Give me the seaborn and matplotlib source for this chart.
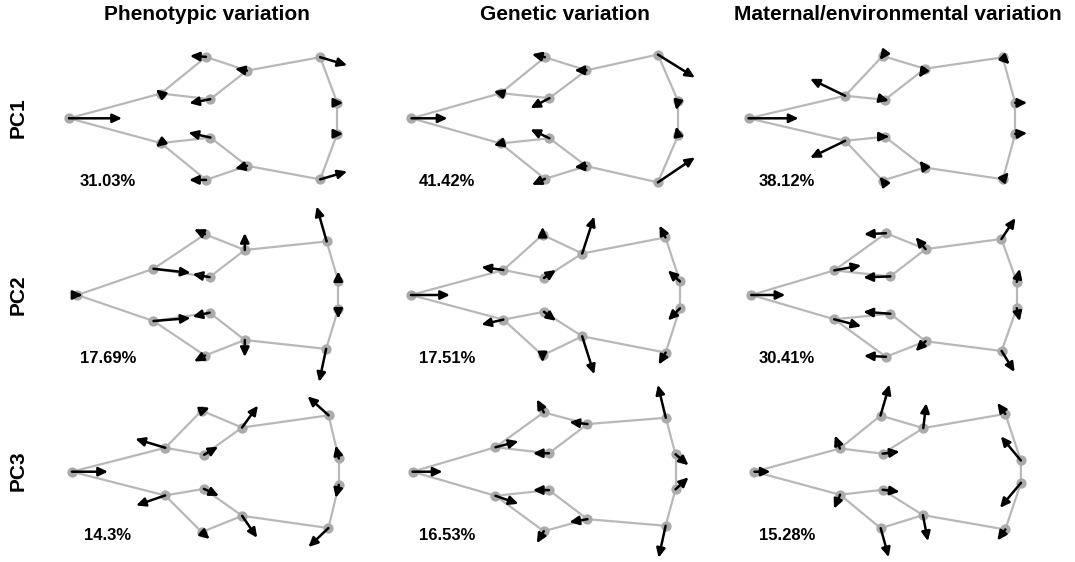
"""
Landmark displacement vectors for the first three PCs of
phenotypic, genetic and maternal/environmental shape variation.
"""
import numpy as np
import matplotlib.pyplot as plt
import seaborn as sns

# ---------------------------------------------------------------------------
# Data
# ---------------------------------------------------------------------------

COLUMNS = ["Phenotypic variation", "Genetic variation", "Maternal/environmental variation"]
ROWS = ["PC1", "PC2", "PC3"]

# consensus (mean) shape, 13 landmarks
MEAN_X = [0.0, 0.817, 1.248, 1.283, 1.665, 2.466, 2.60, 2.60, 2.466, 1.665, 1.283, 1.248, 0.817]
MEAN_Y = [0.0, 0.255, 0.616, 0.184, 0.48, 0.597, 0.155, -0.155, -0.597, -0.48, -0.184, -0.616, -0.255]

# wireframe links between landmarks
LINKS = [(0, 1), (0, 12), (1, 2), (1, 3), (2, 4), (3, 4), (4, 5), (5, 6),
         (6, 7), (7, 8), (8, 9), (9, 10), (9, 11), (10, 12), (11, 12)]

# PC displacement vectors (dx, dy per landmark)
pheno_pc1_dx = [0.53, -0.05, -0.16, -0.21, -0.12, 0.27, 0.06, 0.06, 0.27, -0.12, -0.22, -0.17, -0.05]
pheno_pc1_dy = [0.0, 0.04, 0.01, -0.04, 0.02, -0.08, 0.0, 0.0, 0.08, -0.03, 0.05, 0.0, -0.04]
gen_pc1_dx = [0.36, -0.07, -0.13, -0.19, -0.12, 0.37, -0.02, -0.02, 0.37, -0.12, -0.19, -0.13, -0.07]
gen_pc1_dy = [0.0, 0.02, 0.03, -0.10, 0.0, -0.23, -0.09, 0.09, 0.25, -0.01, 0.09, -0.06, -0.02]
mat_pc1_dx = [0.50, -0.35, -0.03, 0.04, -0.06, 0.07, 0.12, 0.12, 0.06, -0.05, 0.04, -0.03, -0.35]
mat_pc1_dy = [0.0, 0.17, -0.04, -0.01, -0.09, -0.07, 0.0, 0.01, 0.07, 0.07, 0.0, 0.04, -0.17]

pheno_pc2_dx = [0.05, 0.37, -0.11, -0.17, 0.0, -0.10, 0.0, 0.0, -0.07, 0.0, -0.17, -0.11, 0.37]
pheno_pc2_dy = [0.0, -0.04, 0.05, 0.03, 0.17, 0.35, 0.10, -0.10, -0.33, -0.17, -0.04, -0.06, 0.03]
gen_pc2_dx = [0.39, -0.22, 0.0, 0.12, 0.12, -0.06, -0.12, -0.12, -0.07, 0.12, 0.12, 0.0, -0.22]
gen_pc2_dy = [0.0, 0.03, 0.08, 0.08, 0.37, 0.12, 0.11, -0.12, -0.12, -0.38, -0.09, -0.07, -0.05]
mat_pc2_dx = [0.34, 0.27, -0.22, -0.27, -0.10, 0.14, 0.03, 0.03, 0.13, -0.10, -0.27, -0.22, 0.27]
mat_pc2_dy = [0.0, 0.05, -0.01, -0.01, 0.12, 0.21, 0.13, -0.13, -0.21, -0.10, 0.02, 0.01, -0.07]

pheno_pc3_dx = [0.36, -0.30, 0.08, 0.14, 0.16, -0.21, -0.03, -0.03, -0.20, 0.15, 0.15, 0.08, -0.29]
pheno_pc3_dy = [0.0, 0.09, 0.03, 0.08, 0.22, 0.19, 0.13, -0.13, -0.19, -0.22, -0.07, -0.07, -0.10]
gen_pc3_dx = [0.30, 0.23, -0.07, -0.16, -0.18, -0.08, 0.13, 0.13, -0.07, -0.18, -0.16, -0.07, 0.23]
gen_pc3_dy = [0.0, 0.06, 0.13, 0.0, 0.02, 0.33, -0.11, 0.12, -0.32, -0.03, 0.0, -0.12, -0.08]
mat_pc3_dx = [0.16, -0.05, 0.09, 0.17, 0.03, -0.08, -0.20, -0.21, -0.08, 0.05, 0.17, 0.08, -0.06]
mat_pc3_dy = [0.0, 0.13, 0.31, 0.02, 0.25, 0.11, 0.24, -0.25, -0.11, -0.26, -0.02, -0.29, -0.14]

# variance explained
pheno_pct = ["31.03%", "17.69%", "14.3%"]
gen_pct = ["41.42%", "17.51%", "16.53%"]
mat_pct = ["38.12%", "30.41%", "15.28%"]

# share of each vector lying on the "minimum" side of the mean shape
REF_SHARE = 0.176

VECTORS = [
    [(pheno_pc1_dx, pheno_pc1_dy), (gen_pc1_dx, gen_pc1_dy), (mat_pc1_dx, mat_pc1_dy)],
    [(pheno_pc2_dx, pheno_pc2_dy), (gen_pc2_dx, gen_pc2_dy), (mat_pc2_dx, mat_pc2_dy)],
    [(pheno_pc3_dx, pheno_pc3_dy), (gen_pc3_dx, gen_pc3_dy), (mat_pc3_dx, mat_pc3_dy)],
]
PCTS = [pheno_pct, gen_pct, mat_pct]

# ---------------------------------------------------------------------------
# Plot
# ---------------------------------------------------------------------------

sns.set_theme(style="white")
plt.rcParams["font.family"] = ["Liberation Sans", "DejaVu Sans"]
plt.rcParams["text.color"] = "black"

W, H = 1075, 562
fig = plt.figure(figsize=(W / 100, H / 100), dpi=100)

PW, PH = 339.5, 176.7          # panel size in px
LINE_C = "#b8b8b8"
DOT_C = "#aaaaaa"


def draw_panel(ax, dx, dy, pct):
    mx, my = np.array(MEAN_X), np.array(MEAN_Y)
    dx, dy = np.array(dx), np.array(dy)
    rx, ry = mx - REF_SHARE * dx, my - REF_SHARE * dy     # reference shape
    tx, ty = rx + dx, ry + dy                              # target shape

    for a, b in LINKS:
        ax.plot([rx[a], rx[b]], [ry[a], ry[b]], color=LINE_C, lw=1.6,
                solid_capstyle="round", zorder=1)
    sns.scatterplot(x=rx, y=ry, ax=ax, color=DOT_C, s=55, linewidth=0,
                    legend=False, zorder=2)
    for i in range(len(mx)):
        ax.annotate("", xy=(tx[i], ty[i]), xytext=(rx[i], ry[i]),
                    annotation_clip=False,
                    arrowprops=dict(arrowstyle="-|>,head_length=0.55,head_width=0.26",
                                    color="black", lw=1.8, mutation_scale=10,
                                    shrinkA=0, shrinkB=0, clip_on=False),
                    zorder=3)

    ax.text(0.295, -0.634, pct, ha="center", va="center", color="black",
            fontsize=12, fontweight="bold")
    ax.set_xlim(-0.383, PW / 100 - 0.383)
    ax.set_ylim(0.883 - PH / 100, 0.883)
    ax.set_axis_off()


for r in range(3):
    for c in range(3):
        left = 40 + PW * c
        top = 30 + PH * r
        ax = fig.add_axes([left / W, 1 - (top + PH) / H, PW / W, PH / H])
        dx, dy = VECTORS[r][c]
        draw_panel(ax, dx, dy, PCTS[c][r])

# column titles
for x, t in zip([207, 565, 898], COLUMNS):
    fig.text(x / W, 1 - 15 / H, t, ha="center", va="center", color="black",
             fontsize=15, fontweight="bold")

# row labels
for y, t in zip([118, 295, 471], ROWS):
    fig.text(18 / W, 1 - y / H, t, ha="center", va="center", rotation=90,
             color="black", fontsize=15, fontweight="bold")

fig.savefig("out.png", dpi=100)
